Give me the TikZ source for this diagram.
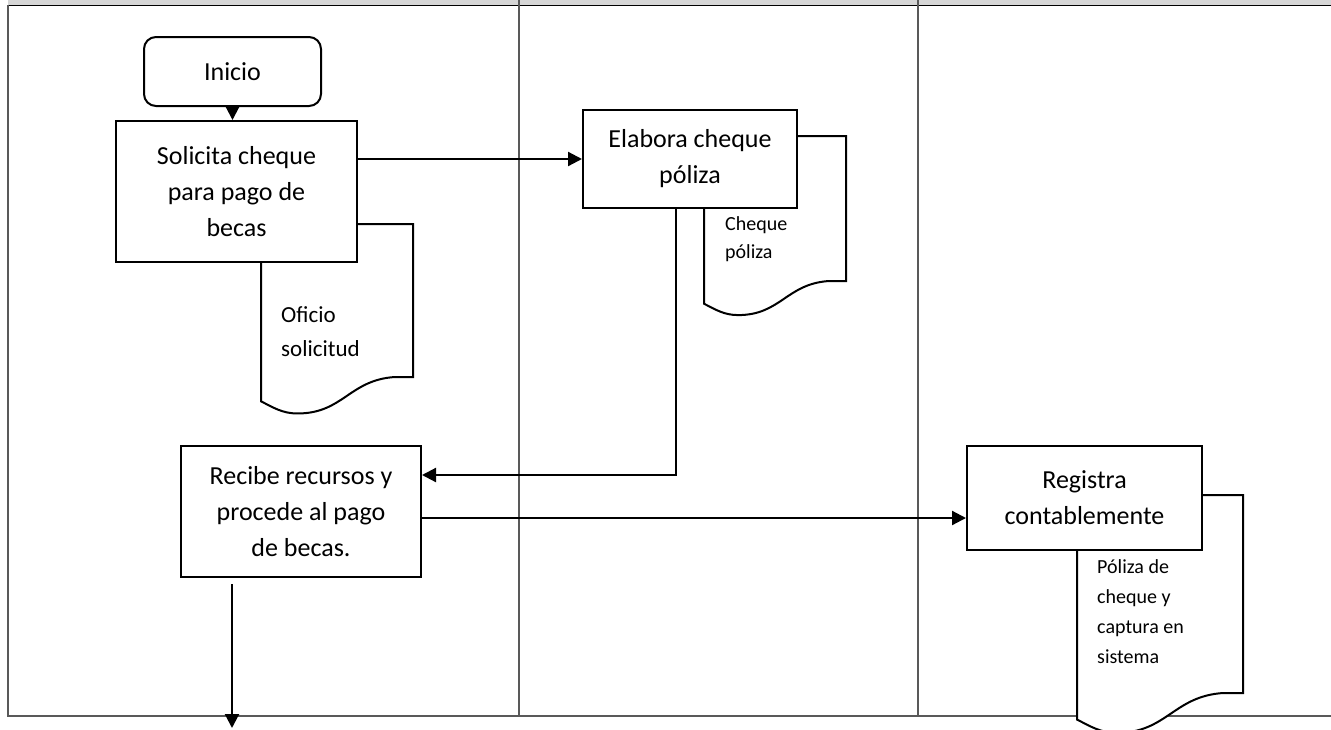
\documentclass[tikz,border=0pt]{standalone}
\usepackage{fontspec}
\setmainfont{Carlito}
\usetikzlibrary{arrows.meta, positioning, calc}

% document shape: left x, top y, right x, bottom y (right end)
\newcommand{\hoja}[4]{%
  \pgfmathsetmacro{\anchoh}{#3-#1}
  \draw[hoja] (#1,#2) -- (#3,#2) -- (#3,#4) -- ({#3-0.12*\anchoh},#4)
    .. controls +({-0.3*\anchoh},{0.02*\anchoh}) and +({0.3*\anchoh},0) .. ({#1+0.24*\anchoh},{#4+0.24*\anchoh})
    .. controls +({-0.1*\anchoh},0) and +({0.08*\anchoh},{0.04*\anchoh}) .. (#1,{#4+0.16*\anchoh}) -- cycle;}

\begin{document}
\begin{tikzpicture}[
                    x=1pt, y=-1pt,
                    caja/.style={rectangle, draw, line width=2pt, fill=white, align=center, inner sep=0pt,
                                 font=\fontsize{26}{36}\selectfont},
                    inicio/.style={caja, rounded corners=12pt},
                    hoja/.style={draw, line width=2pt, fill=white},
                    nota/.style={align=left, inner sep=0pt, anchor=west},
                    carril/.style={draw=black!65, line width=1.4pt},
                    flecha/.style={-{Triangle[length=14pt,width=14pt]}, line width=2.2pt}
                ]
                \useasboundingbox (0,0) rectangle (1331,729);
                \clip (0,0) rectangle (1331,729);

                % Define the lanes
                \fill[black!16] (8,0) rectangle (1331,5);
                \draw[line width=1.8pt] (8,5.5) -- (1331,5.5);
                \draw[carril] (8,5) -- (8,716) -- (1331,716);
                \draw[carril] (519,0) -- (519,716);
                \draw[carril] (918,0) -- (918,716);

                % Define the documents
                \hoja{261}{224}{413}{377}
                \hoja{704}{136}{846}{281}
                \hoja{1077}{495}{1243}{693}

                \node[nota, font=\fontsize{23}{34}\selectfont] (oficio) at (281,332) {Oficio\\solicitud};
                \node[nota, font=\fontsize{20}{28}\selectfont] (cheque) at (725,239) {Cheque\\póliza};
                \node[nota, font=\fontsize{20}{30}\selectfont] (poliza) at (1097,612) {Póliza de\\cheque y\\captura en\\sistema};

                % Define the main nodes
                \node[inicio, minimum width=177pt, minimum height=69pt] (inicio) at (232.5,71.5) {Inicio};
                \node[caja, minimum width=241pt, minimum height=141pt, below=13pt of inicio, xshift=4pt] (solicita) {Solicita cheque\\para pago de\\becas};
                \node[caja, minimum width=214pt, minimum height=98pt] (elabora) at (690,159) {Elabora cheque\\póliza};
                \node[caja, minimum width=240pt, minimum height=131pt] (recibe) at (301,511.5) {Recibe recursos y\\procede al pago\\de becas.};
                \node[caja, minimum width=235pt, minimum height=104pt, anchor=north west] (registra) at (recibe.north -| 966,0) {Registra\\contablemente};
                \coordinate (fin) at (232,728);

                % Draw the arrows
                \draw[flecha] (inicio.south) -- (inicio.south |- solicita.north);
                \draw[flecha] (solicita.east |- elabora.west) -- (elabora.west);
                \draw[flecha] ([xshift=-14pt]elabora.south) |- ([yshift=36.5pt]recibe.east);
                \draw[flecha] ([yshift=-6.5pt]recibe.east) -- ([yshift=-6.5pt]recibe.east -| registra.west);
                \draw[flecha, shorten <=6pt] (recibe.south -| fin) -- (fin);
\end{tikzpicture}
\end{document}
